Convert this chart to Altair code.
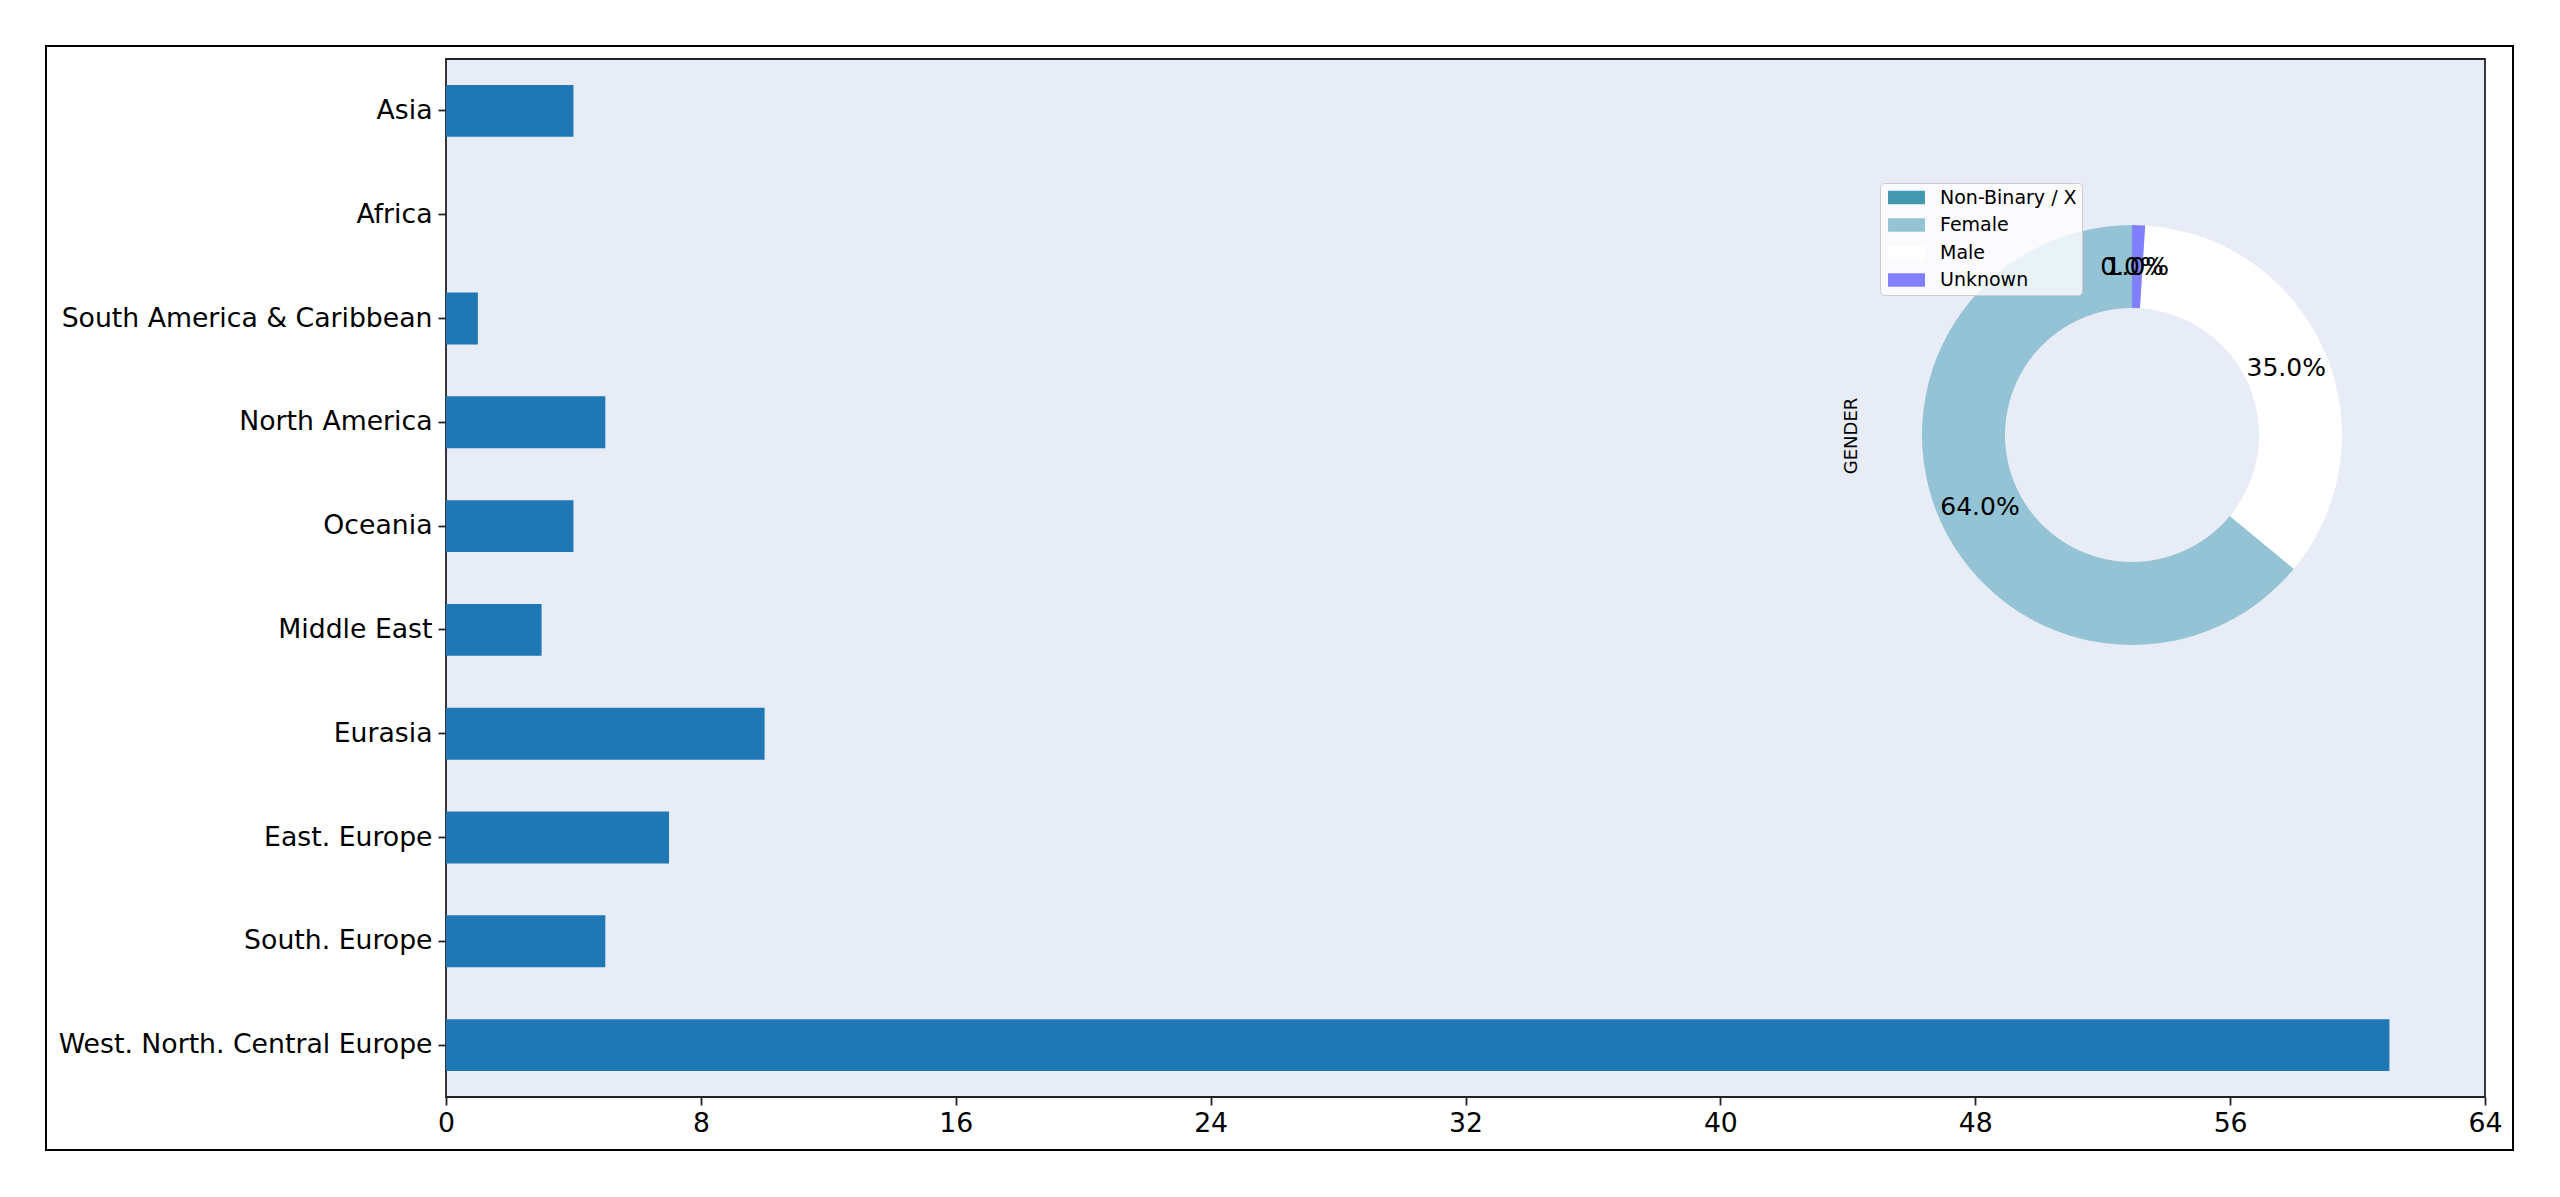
import altair as alt
import pandas as pd

FONT = "DejaVu Sans"

# ---- data ----
regions = ["Asia", "Africa", "South America & Caribbean", "North America", "Oceania",
           "Middle East", "Eurasia", "East. Europe", "South. Europe",
           "West. North. Central Europe"]
counts = [4, 0, 1, 5, 4, 3, 10, 7, 5, 61]
x_ticks = [0, 8, 16, 24, 32, 40, 48, 56, 64]

genders = ["Non-Binary / X", "Female", "Male", "Unknown"]
gender_pct = [0.0, 64.0, 35.0, 1.0]
gender_colors = ["#4399b0", "#93c3d4", "#ffffff", "#8080ff"]
pie_title = ["GENDER"]

bars_df = pd.DataFrame({"region": regions, "count": counts})
pie_df = pd.DataFrame({
    "gender": genders,
    "pct": gender_pct,
    "label": [f"{v:.1f}%" for v in gender_pct],
    # matplotlib draws counter-clockwise from the top; Vega draws clockwise
    "order": list(range(len(genders)))[::-1],
})

W, H = 2039, 1038
CX, CY = 1686, 376
TICK_FS = 26.7

frame = alt.Chart(pd.DataFrame({"k": [0]})).mark_rect(
    fillOpacity=0, stroke="black", strokeWidth=2
).encode(x=alt.value(-400), x2=alt.value(2067), y=alt.value(-13), y2=alt.value(1091))

bars = alt.Chart(bars_df).mark_bar(color="#1f77b4").encode(
    x=alt.X("count:Q",
            scale=alt.Scale(domain=[0, 64], nice=False, zero=True),
            axis=alt.Axis(values=x_ticks, title=None, grid=False, domain=False,
                          labelFontSize=TICK_FS, labelFont=FONT, labelColor="black",
                          labelFlush=False,
                          tickSize=8, tickWidth=1.8, tickColor="#222",
                          labelPadding=5, format="d")),
    y=alt.Y("region:N", sort=regions,
            scale=alt.Scale(paddingInner=0.5, paddingOuter=0.25),
            axis=alt.Axis(title=None, grid=False, domain=False,
                          labelFontSize=TICK_FS, labelFont=FONT, labelColor="black",
                          tickSize=8, tickWidth=1.8, tickColor="#222",
                          labelPadding=6, labelLimit=0)),
)

arc = alt.Chart(pie_df).mark_arc(radius=210, innerRadius=127).encode(
    theta=alt.Theta("pct:Q", stack=True),
    order=alt.Order("order:Q"),
    color=alt.Color("gender:N",
                    scale=alt.Scale(domain=genders, range=gender_colors),
                    legend=alt.Legend(title=None, orient="none", legendX=1434, legendY=124,
                                      fillColor="rgba(255,255,255,0.8)",
                                      strokeColor="#cccccc", cornerRadius=4, padding=5,
                                      symbolType="M-2.2,-0.8H2.2V0.8H-2.2Z",
                                      symbolSize=282, symbolStrokeWidth=0,
                                      symbolOpacity=1, symbolOffset=12,
                                      labelFontSize=19, labelFont=FONT,
                                      labelColor="black", labelOffset=24,
                                      rowPadding=7.5)),
    x=alt.value(CX), y=alt.value(CY),
)

pct_text = alt.Chart(pie_df).mark_text(
    radius=168, fontSize=25, font=FONT, color="black"
).encode(
    theta=alt.Theta("pct:Q", stack=True),
    order=alt.Order("order:Q"),
    text="label:N",
    x=alt.value(CX), y=alt.value(CY),
)

gender_title = alt.Chart(pd.DataFrame({"t": pie_title})).mark_text(
    angle=270, fontSize=18, font=FONT, color="black"
).encode(text="t:N", x=alt.value(1406), y=alt.value(377))

chart = alt.layer(frame, bars, arc, pct_text, gender_title).properties(
    width=W, height=H,
    autosize=alt.AutoSizeParams(type="none"),
    padding={"left": 438, "top": 51, "right": 40, "bottom": 60},
    background="white",
).configure_view(
    fill="#e8ecf7", stroke="#222", strokeWidth=1.8
)

chart.save("out.html", embed_options={"renderer": "svg", "actions": False})
